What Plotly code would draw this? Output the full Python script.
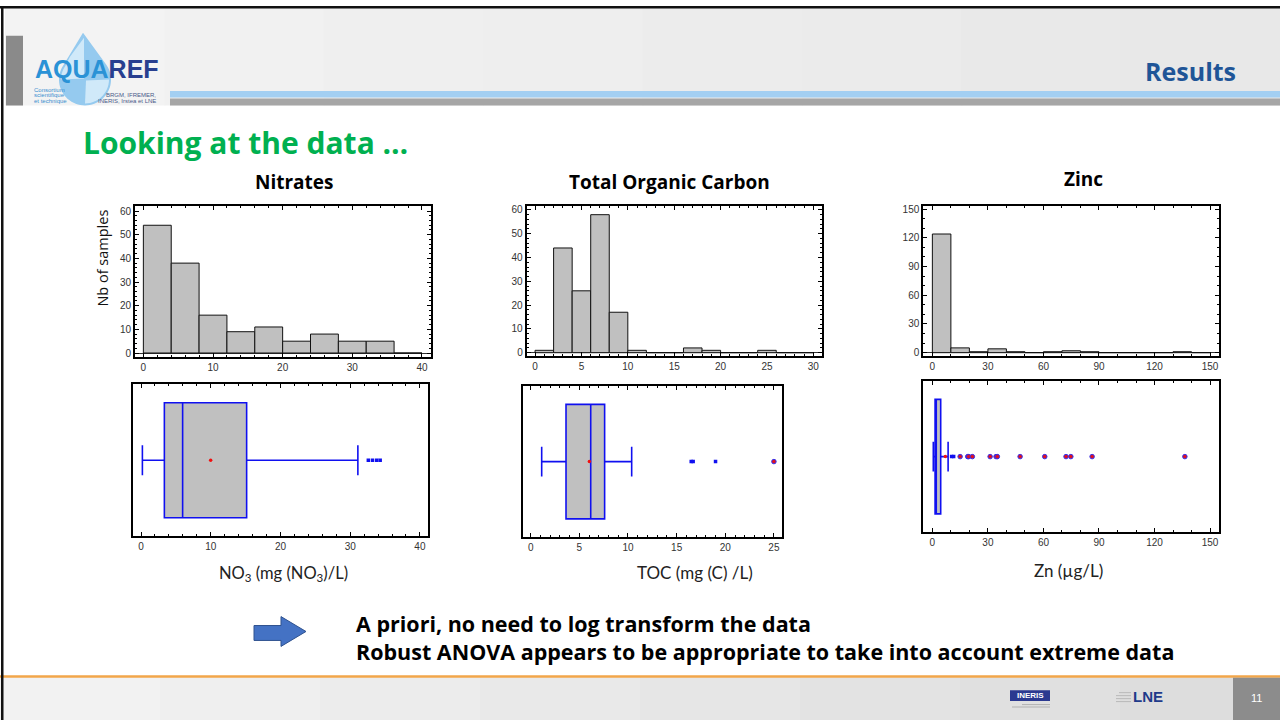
import math
import plotly.graph_objects as go

# ---------------- data ----------------
# Histograms (left bin edges, bin width, counts)
no3_bin_left = [0, 4, 8, 12, 16, 20, 24, 28, 32, 36]
no3_bin_width = 4
no3_counts = [54, 38, 16, 9, 11, 5, 8, 5, 5, 0]

toc_bin_left = [0, 2, 4, 6, 8, 10, 12, 14, 16, 18, 20, 22, 24, 26, 28]
toc_bin_width = 2
toc_counts = [1, 44, 26, 58, 17, 1, 0, 0, 2, 1, 0, 0, 1, 0, 0]

zn_bin_left = [0, 10, 20, 30, 40, 50, 60, 70, 80, 90, 100, 110, 120, 130, 140]
zn_bin_width = 10
zn_counts = [124, 5, 1, 4, 1, 0, 1, 2, 1, 0, 0, 0, 0, 1, 0]

# Box plots: [lower whisker, Q1, median, Q3, upper whisker], mean, outliers
no3_box = [0.2, 3.35, 5.97, 15.15, 31.1]
no3_mean = 9.99
no3_out = [32.6, 33.2, 33.8, 34.3]
no3_far = []

toc_box = [1.13, 3.63, 6.17, 7.6, 10.38]
toc_mean = 6.03
toc_out = [16.5, 16.7, 19.0]
toc_far = [25.0]

zn_box = [0.5, 1.46, 2.1, 4.5, 8.5]
zn_mean = 7.0
zn_out = [10.4, 11.5]
zn_far = [15.0, 19.1, 19.6, 21.6, 31.2, 34.4, 35.1, 47.4, 60.7, 72.2, 74.8, 86.3, 136.4]

W, H = 1280, 722
TXT = "Lato"
BOLD = "Open Sans"
TICKF = "Liberation Sans, Arial"


def X(px):
    return px / W


def Y(py):
    return 1 - py / H


fig = go.Figure()

# ---------------- histograms ----------------
hists = [
    (no3_bin_left, no3_bin_width, no3_counts, "x", "y"),
    (toc_bin_left, toc_bin_width, toc_counts, "x2", "y2"),
    (zn_bin_left, zn_bin_width, zn_counts, "x3", "y3"),
]
for left, bw, counts, xa, ya in hists:
    fig.add_trace(go.Bar(
        x=[l + bw / 2 for l in left], y=counts, width=bw,
        marker=dict(color="#C0C0C0", line=dict(color="#111111", width=1)),
        xaxis=xa, yaxis=ya, showlegend=False, hoverinfo="skip"))

# ---------------- box plots ----------------
boxes = [
    (no3_box, no3_mean, no3_out, no3_far, "x4", "y4"),
    (toc_box, toc_mean, toc_out, toc_far, "x5", "y5"),
    (zn_box, zn_mean, zn_out, zn_far, "x6", "y6"),
]
for st, mean, out, far, xa, ya in boxes:
    fig.add_trace(go.Box(
        y=[0], lowerfence=[st[0]], q1=[st[1]], median=[st[2]], q3=[st[3]],
        upperfence=[st[4]], orientation="h", width=1.512, whiskerwidth=0.26,
        fillcolor="#C0C0C0", line=dict(color="#1010F0", width=1.6),
        boxpoints=False, xaxis=xa, yaxis=ya, showlegend=False, hoverinfo="skip"))
    if out:
        fig.add_trace(go.Scatter(
            x=out, y=[0] * len(out), mode="markers",
            marker=dict(symbol="square", size=3.5, color="#1010F0"),
            xaxis=xa, yaxis=ya, showlegend=False, hoverinfo="skip"))
    if far:
        fig.add_trace(go.Scatter(
            x=far, y=[0] * len(far), mode="markers",
            marker=dict(symbol="circle", size=4.5, color="#E01020",
                        line=dict(color="#3030F0", width=1)),
            xaxis=xa, yaxis=ya, showlegend=False, hoverinfo="skip"))
    fig.add_trace(go.Scatter(
        x=[mean], y=[0], mode="markers",
        marker=dict(symbol="circle", size=3.5, color="#F01010"),
        xaxis=xa, yaxis=ya, showlegend=False, hoverinfo="skip"))


def xax(dom, rng, dtick, mdtick, anchor):
    return dict(domain=dom, range=rng, anchor=anchor, tick0=0, dtick=dtick,
                ticks="inside", ticklen=4, tickwidth=1, tickcolor="black",
                showline=True, linecolor="black", linewidth=2, mirror="ticks",
                showgrid=False, zeroline=False, fixedrange=True,
                minor=dict(dtick=mdtick, tick0=0, ticks="inside", ticklen=2,
                           tickcolor="black", showgrid=False),
                tickfont=dict(family=TICKF, size=10, color="#333333"))


def yhist(dom, rng, dtick, mdtick, anchor):
    d = xax(dom, rng, dtick, mdtick, anchor)
    d.update(zeroline=True, zerolinecolor="#333333", zerolinewidth=1)
    return d


def ybox(dom, anchor):
    return dict(domain=dom, range=[-1, 1], anchor=anchor, showticklabels=False,
                ticks="", showline=True, linecolor="black", linewidth=2,
                mirror=True, showgrid=False, zeroline=False, fixedrange=True)


lay = dict(
    width=W, height=H, margin=dict(l=0, r=0, t=0, b=0),
    paper_bgcolor="white", plot_bgcolor="white", showlegend=False,
    bargap=0,
    xaxis=xax([X(135), X(431)], [-1.2, 41.3], 10, 2, "y"),
    yaxis=yhist([Y(357), Y(205)], [-1.7, 62.2], 10, 2, "x"),
    xaxis2=xax([X(526.7), X(821.7)], [-0.9, 30.9], 5, 1, "y2"),
    yaxis2=yhist([Y(356), Y(205)], [-1.4, 61.7], 10, 2, "x2"),
    xaxis3=xax([X(923.3), X(1219.3)], [-4.9, 155], 30, 10, "y3"),
    yaxis3=yhist([Y(355.7), Y(205)], [-3.2, 153.4], 30, 10, "x3"),
    xaxis4=xax([X(132.7), X(428.3)], [-1.19, 41.2], 10, 2, "y4"),
    yaxis4=ybox([Y(537.3), Y(384.3)], "x4"),
    xaxis5=xax([X(523.3), X(781.7)], [-0.76, 25.8], 5, 1, "y5"),
    yaxis5=ybox([Y(538.3), Y(386)], "x5"),
    xaxis6=xax([X(923.3), X(1219.3)], [-4.9, 155], 30, 10, "y6"),
    yaxis6=ybox([Y(533.3), Y(381)], "x6"),
)
fig.update_layout(**lay)

shapes = []


def rect(x0, y0, x1, y1, fill, layer="below", line=None):
    shapes.append(dict(type="rect", xref="paper", yref="paper",
                       x0=X(x0), x1=X(x1), y0=Y(y1), y1=Y(y0),
                       fillcolor=fill, line=line or dict(width=0), layer=layer))


def path(pts, fill, line_color=None, lw=0, layer="above"):
    s = "M " + " L ".join(f"{X(a):.5f},{Y(b):.5f}" for a, b in pts) + " Z"
    shapes.append(dict(type="path", xref="paper", yref="paper", path=s,
                       fillcolor=fill, line=dict(color=line_color or fill, width=lw),
                       layer=layer))


# header gradient
hdr_cols = ["#f3f3f3", "#f1f1f1", "#efefef", "#eeeeee", "#ececec", "#ebebeb", "#e9e9e9", "#e8e8e8"]
n = len(hdr_cols)
for i, c in enumerate(hdr_cols):
    rect(5 + i * (1275 / n), 6, 5 + (i + 1) * (1275 / n) + 1, 104, c)
# gray square on left
rect(6, 34, 23, 104, "#8a8a8a")
# blue + gray stripes
rect(170, 89.5, 1280, 96, "#a3cff2")
rect(170, 97, 1280, 104, "#a6a6a6")

# footer gradient
ftr_cols = ["#f2f2f2", "#efefef", "#ececec", "#e9e9e9", "#e6e6e6", "#e3e3e3", "#e0e0e0", "#dddddd"]
n = len(ftr_cols)
for i, c in enumerate(ftr_cols):
    rect(0 + i * (1280 / n), 679, (i + 1) * (1280 / n) + 1, 722, c)
rect(0, 677, 1280, 679.5, "#f2a64a")
rect(1233, 679.5, 1280, 722, "#8c8c8c")

# black frame lines (top & left)
rect(0, 4, 1280, 6.5, "#111111")
rect(1, 4, 3.5, 722, "#111111")

# water droplet (logo)
cx, cy, r = 85, 78, 26
drop = [(83, 31)]
for k in range(0, 49):
    a = math.radians(145 + k * 250 / 48)
    drop.append((cx + r * math.cos(a), cy - r * math.sin(a)))
path(drop, "#95caef", layer="below")
# lighter quadrants
ul = [(84, 36), (84, 77)] + [(cx + (r - 2) * math.cos(math.radians(a)), cy - (r - 2) * math.sin(math.radians(a)))
                             for a in range(180, 144, -5)] + [(70, 55)]
path(ul, "#d0e9f9", layer="below")
lr = [(86, 79)] + [(cx + (r - 2) * math.cos(math.radians(a)), cy - (r - 2) * math.sin(math.radians(a)))
                   for a in range(360, 269, -6)]
path(lr, "#d0e9f9", layer="below")

# arrow
path([(254, 627), (281, 627), (281, 618), (306, 633), (281, 648), (281, 642), (254, 642)],
     "#4472c4", "#2f528f", 1)

# INERIS logo
rect(1010, 692, 1050, 703, "#2b3990", layer="above")
rect(1022, 706, 1050, 707, "#b0b0b0", layer="above")
rect(1012, 708.5, 1050, 709.5, "#b0b0b0", layer="above")
# LNE small lines
for i, yy in enumerate([694, 697, 700, 703]):
    rect(1116 + (3 if i == 0 else 0), yy, 1131, yy + 1, "#b8b8b8", layer="above")

fig.update_layout(shapes=shapes)

ann = []


def text(x, y, t, size, color="#000000", bold=False, family=TXT, xanchor="center",
         yanchor="middle", angle=0, align="center"):
    if bold:
        t = f"<b>{t}</b>"
    ann.append(dict(x=X(x), y=Y(y), xref="paper", yref="paper", text=t, showarrow=False,
                    xanchor=xanchor, yanchor=yanchor, textangle=angle, align=align,
                    font=dict(family=family, size=size, color=color)))


text(81, 141, "Looking at the data …", 30, "#00b050", True, family=BOLD, xanchor="left")
text(1238, 69, "Results", 25, "#1f5597", True, family=BOLD, xanchor="right")

text(294, 181, "Nitrates", 19, bold=True, family=BOLD)
text(669, 181, "Total Organic Carbon", 19, bold=True, family=BOLD)
text(1083, 178, "Zinc", 19, bold=True, family=BOLD)

text(103, 258, "Nb of samples", 14.5, "#111111", family="Open Sans", angle=-90)

text(283, 575, "NO<sub>3</sub> (mg (NO<sub>3</sub>)/L)", 16.5, "#222222")
text(695, 574, "TOC (mg (C) /L)", 17, "#222222")
text(1068, 572, "Zn (µg/L)", 17, "#222222")

text(354, 639, "<b>A priori, no need to log transform the data</b><br>"
     "<b>Robust ANOVA appears to be appropriate to take into account extreme data</b>",
     21.5, "#000000", False, family=BOLD, xanchor="left", align="left")

# logo text
text(33, 67, "<b><span style='color:#2a92d6'>AQUA</span><span style='color:#283f8f'>REF</span></b>",
     25, family="Liberation Sans, Arial", xanchor="left")
text(32, 88, "Consortium", 6, "#3a8fd0", family="Liberation Sans, Arial", xanchor="left")
text(32, 94, "scientifique", 6, "#3a8fd0", family="Liberation Sans, Arial", xanchor="left")
text(32, 100, "et technique", 6, "#3a8fd0", family="Liberation Sans, Arial", xanchor="left")
text(158, 94, "BRGM, IFREMER,", 6, "#4a5a8a", family="Liberation Sans, Arial", xanchor="right")
text(158, 100, "INERIS, Irstea et LNE", 6, "#4a5a8a", family="Liberation Sans, Arial", xanchor="right")

# footer logos and page number
text(1030, 697.5, "INERIS", 8, "#ffffff", True, family="Liberation Sans, Arial")
text(1148, 698, "LNE", 15, "#1f3a8a", True, family="Liberation Sans, Arial")
text(1256.5, 700, "11", 11, "#ffffff", family="Liberation Sans, Arial")

fig.update_layout(annotations=ann)

fig.write_html("out.html", config={"displayModeBar": False, "staticPlot": True},
               post_script="document.body.style.margin='0';document.body.style.overflow='hidden';")
